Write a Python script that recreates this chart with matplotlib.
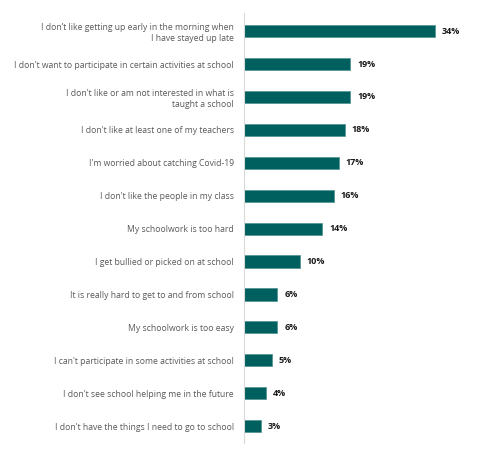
import matplotlib.pyplot as plt

plt.rcParams["font.family"] = ["Open Sans", "DejaVu Sans"]

reasons = [
    "I don\u2019t like getting up early in the morning when\nI have stayed up late",
    "I don't want to participate in certain activities at school",
    "I don't like or am not interested in what is\ntaught a school",
    "I don't like at least one of my teachers",
    "I'm worried about catching Covid-19",
    "I don't like the people in my class",
    "My schoolwork is too hard",
    "I get bullied or picked on at school",
    "It is really hard to get to and from school",
    "My schoolwork is too easy",
    "I can't participate in some activities at school",
    "I don't see school helping me in the future",
    "I don't have the things I need to go to school",
]
pct = [34, 19, 19, 18, 17, 16, 14, 10, 6, 6, 5, 4, 3]

fig = plt.figure(figsize=(4.8, 4.67), dpi=100)
ax = fig.add_axes([0.508, 0.051, 0.472, 0.921])

ypos = list(range(len(reasons)))
ax.barh(ypos, pct, height=0.37, color="#005F5F", edgecolor="#4d9090", linewidth=0.5)

for y, v in zip(ypos, pct):
    ax.text(v + 1.2, y, f"{v}%", va="center", ha="left",
            fontsize=6.5, fontweight="bold", color="#1a1a1a")

ax.set_yticks(ypos)
ax.set_yticklabels(reasons, fontsize=6.2, color="#595959", linespacing=1.3)
ax.tick_params(axis="y", length=0, pad=7)
ax.set_xticks([])
ax.set_xlim(0, 40.4)
ax.set_ylim(12.52, -0.55)

for side in ["top", "right", "bottom"]:
    ax.spines[side].set_visible(False)
ax.spines["left"].set_color("#d9d9d9")
ax.spines["left"].set_linewidth(0.8)

fig.savefig("out.png", dpi=100)
